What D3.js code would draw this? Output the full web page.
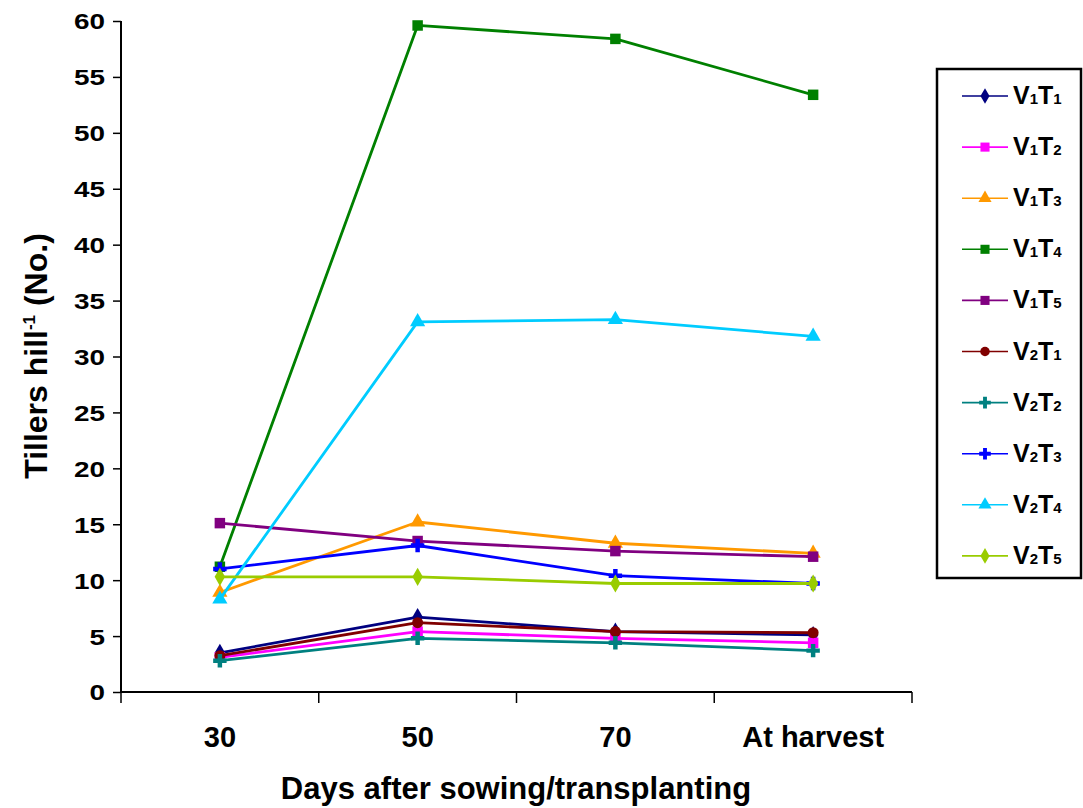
<!DOCTYPE html>
<html><head><meta charset="utf-8">
<script src="https://cdn.jsdelivr.net/npm/d3@7"></script>
<style>body{margin:0;background:#fff;} svg{display:block;font-family:"Liberation Sans",Arial,sans-serif;}</style>
</head><body>
<svg id="c" width="1083" height="808"></svg>
<script>
const categories = ["30", "50", "70", "At harvest"];
const seriesNames = ["V1T1","V1T2","V1T3","V1T4","V1T5","V2T1","V2T2","V2T3","V2T4","V2T5"];
const V1T1 = [3.5, 6.7, 5.4, 5.1];
const V1T2 = [3.1, 5.4, 4.8, 4.4];
const V1T3 = [8.9, 15.2, 13.3, 12.4];
const V1T4 = [11.2, 59.6, 58.4, 53.4];
const V1T5 = [15.1, 13.5, 12.6, 12.1];
const V2T1 = [3.25, 6.2, 5.4, 5.3];
const V2T2 = [2.8, 4.8, 4.4, 3.7];
const V2T3 = [11.0, 13.1, 10.4, 9.7];
const V2T4 = [8.3, 33.1, 33.3, 31.8];
const V2T5 = [10.3, 10.3, 9.7, 9.7];
const yTicks = [0,5,10,15,20,25,30,35,40,45,50,55,60];
const colors = ["#000080","#FF00FF","#FF9900","#008000","#800080","#800000","#008080","#0000FF","#00CCFF","#99CC00"];
const symbols = [d3.symbolDiamond, d3.symbolSquare, d3.symbolTriangle, d3.symbolSquare, d3.symbolSquare, d3.symbolCircle, d3.symbolCross, d3.symbolCross, d3.symbolTriangle, d3.symbolDiamond];
const values = [V1T1,V1T2,V1T3,V1T4,V1T5,V2T1,V2T2,V2T3,V2T4,V2T5];

const svg = d3.select("#c");
const x = d3.scaleBand().domain(categories).range([121, 912]);
const y = d3.scaleLinear().domain([0, 60]).range([692, 21]);

// axes
const yAxis = svg.append("g").attr("transform","translate(121,0)")
  .call(d3.axisLeft(y).tickValues(yTicks).tickSize(8).tickPadding(8));
yAxis.select(".domain").attr("stroke","#000").attr("stroke-width",2).attr("d","M0,21V692");
yAxis.selectAll(".tick line").attr("stroke","#000").attr("stroke-width",1.5);
yAxis.selectAll("text").attr("font-size",22).attr("font-weight","bold").attr("fill","#000")
  .attr("dy","0.36em")
  .attr("textLength", d => String(d).length * 15.5).attr("lengthAdjust","spacingAndGlyphs");

const xAxis = svg.append("g").attr("transform","translate(0,692)")
  .call(d3.axisBottom(x).tickSize(0).tickPadding(34));
xAxis.select(".domain").attr("stroke","#000").attr("stroke-width",2).attr("d","M121,0H912");
xAxis.selectAll("text").attr("font-size",29).attr("font-weight","bold").attr("fill","#000");
// boundary ticks
const bounds = categories.map(c => x(c)).concat([x(categories[categories.length-1]) + x.bandwidth()]);
svg.append("g").selectAll("line").data(bounds).join("line")
  .attr("x1",d=>d).attr("x2",d=>d).attr("y1",692).attr("y2",703)
  .attr("stroke","#000").attr("stroke-width",1.5);

// titles
svg.append("text").attr("x",516).attr("y",799).attr("text-anchor","middle")
  .attr("font-size",31).attr("font-weight","bold").text("Days after sowing/transplanting");
const yt = svg.append("text").attr("transform","translate(47,356) rotate(-90)").attr("text-anchor","middle")
  .attr("font-size",32).attr("font-weight","bold");
yt.append("tspan").text("Tillers hill");
yt.append("tspan").attr("dy",-12).attr("font-size",17).text("-1");
yt.append("tspan").attr("dy",12).text(" (No.)");

// series
const line = d3.line().x((d,i)=>x(categories[i]) + x.bandwidth()/2).y(d=>y(d));
const msize = s => s===d3.symbolSquare?110:(s===d3.symbolCross?100:(s===d3.symbolTriangle?100:95));
values.forEach((vals, si) => {
  const g = svg.append("g");
  g.append("path").datum(vals).attr("d", line).attr("fill","none")
    .attr("stroke", colors[si]).attr("stroke-width", 2.8).attr("stroke-linejoin","round");
  g.selectAll("path.m").data(vals).join("path").attr("class","m")
    .attr("transform",(d,i)=>`translate(${x(categories[i]) + x.bandwidth()/2},${y(d)})`)
    .attr("d", d3.symbol().type(symbols[si]).size(msize(symbols[si])))
    .attr("fill", colors[si]);
});

// legend
const lg = svg.append("g");
lg.append("rect").attr("x",937).attr("y",69).attr("width",144).attr("height",509)
  .attr("fill","#fff").attr("stroke","#000").attr("stroke-width",2.5);
seriesNames.forEach((name, i) => {
  const cy = 96 + i*51.1;
  lg.append("line").attr("x1",962).attr("x2",1008).attr("y1",cy).attr("y2",cy)
    .attr("stroke",colors[i]).attr("stroke-width",1.6);
  lg.append("path").attr("transform",`translate(985,${cy})`)
    .attr("d", d3.symbol().type(symbols[i]).size(msize(symbols[i])*0.75)).attr("fill",colors[i]);
  const t = lg.append("text").attr("x",1013).attr("y",cy+8).attr("font-size",25).attr("font-weight","bold");
  t.append("tspan").text(name[0]);
  t.append("tspan").attr("font-size",15).text(name[1]);
  t.append("tspan").text(name[2]);
  t.append("tspan").attr("font-size",15).text(name[3]);
});
</script>
</body></html>
